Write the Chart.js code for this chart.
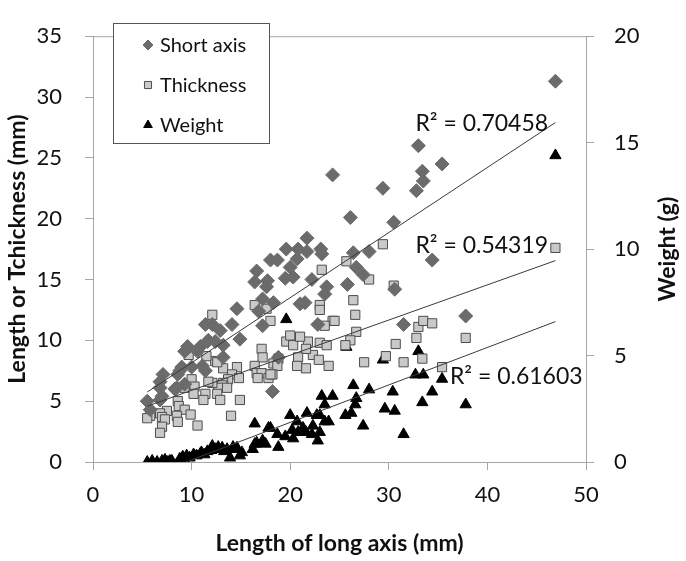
<!DOCTYPE html>
<html>
<head>
<meta charset="utf-8">
<script src="https://cdn.jsdelivr.net/npm/chart.js@4"></script>
<style>
  html, body { margin: 0; padding: 0; background: #fff; }
  #wrap { width: 686px; height: 561px; }
</style>
</head>
<body>
<div id="wrap"><canvas id="scatter"></canvas></div>
<script>
// long axis (mm) vs short axis (mm)
const shortAxis = [
  [46.9,31.3],[33.0,26.0],[35.4,24.5],[33.4,23.9],[33.5,23.1],[32.8,22.3],[24.3,23.6],[29.4,22.5],
  [26.1,20.1],[30.5,19.7],[34.4,16.6],[37.8,12.0],[31.5,11.3],[30.6,14.2],[21.7,18.4],[21.7,17.3],
  [23.1,17.5],[23.2,17.1],[26.4,17.2],[28.0,17.3],[26.7,16.0],[27.4,15.4],[22.2,15.0],[25.8,14.6],
  [23.7,14.4],[23.5,13.8],[21.5,13.1],[21.0,13.0],[22.8,11.3],[19.6,17.5],[20.8,17.5],[18.0,16.6],
  [18.7,16.6],[20.7,16.7],[20.0,16.0],[16.6,15.7],[16.4,14.8],[17.7,14.9],[17.6,14.4],[19.5,15.1],
  [20.3,15.2],[17.2,13.4],[18.3,13.1],[16.8,12.4],[14.6,12.6],[17.2,11.2],[14.1,11.3],[12.1,11.3],
  [12.9,10.8],[11.4,11.3],[11.7,10.0],[12.4,9.9],[14.9,10.1],[13.2,9.6],[10.9,9.5],[9.6,9.5],
  [9.3,9.1],[10.6,9.1],[13.2,8.6],[9.0,7.8],[10.0,7.8],[11.1,7.9],[11.4,7.5],[8.6,7.2],
  [7.1,7.2],[6.8,6.6],[9.3,6.4],[8.3,6.0],[6.8,6.1],[7.0,5.4],[5.5,5.0],[6.8,5.1],
  [5.8,4.3],[18.2,5.8],[18.8,8.6],[8.8,7.5],[11.6,9.9],[8.5,6.1]
];
// long axis (mm) vs thickness (mm)
const thickness = [
  [46.9,17.6],[32.8,10.2],[33.0,11.1],[33.5,11.6],[34.4,11.4],[37.8,10.2],[35.4,7.8],[33.4,8.5],
  [30.7,9.7],[29.7,8.7],[31.5,8.2],[27.5,8.2],[29.4,17.9],[25.7,16.5],[23.2,15.8],[28.0,15.0],
  [30.5,14.5],[26.4,13.3],[23.0,12.9],[23.0,12.5],[26.6,12.1],[24.3,11.6],[23.5,11.2],[26.7,10.7],
  [26.1,10.0],[25.6,9.6],[23.0,9.8],[23.7,9.6],[21.8,9.9],[22.3,8.8],[22.9,8.4],[23.9,7.9],
  [21.6,7.7],[19.6,9.9],[20.3,9.6],[21.0,10.3],[20.0,10.4],[21.6,9.3],[20.8,8.6],[20.7,7.9],
  [17.1,9.3],[17.2,8.6],[18.3,8.1],[18.8,8.5],[18.7,7.9],[16.4,7.9],[16.6,7.3],[17.1,7.3],
  [16.7,6.9],[17.8,6.9],[18.2,7.2],[12.4,8.3],[13.2,7.7],[14.6,7.8],[14.1,7.2],[14.8,6.9],
  [13.7,6.8],[13.2,6.5],[13.1,6.3],[12.7,6.1],[12.1,6.5],[12.6,5.6],[12.9,5.1],[14.9,5.1],
  [14.0,3.8],[12.1,12.1],[16.4,12.9],[17.6,12.6],[18.0,11.6],[24.5,11.6],[9.7,8.8],[11.5,8.7],
  [12.6,8.2],[13.6,6.1],[10.0,6.8],[9.3,6.1],[10.3,6.2],[11.7,6.6],[11.4,5.6],[10.2,5.6],
  [8.6,5.0],[8.7,4.6],[9.3,4.3],[7.5,4.2],[6.8,4.0],[5.8,3.8],[5.5,3.6],[7.0,3.7],
  [7.3,3.5],[8.5,3.8],[8.6,3.3],[7.0,2.9],[6.8,2.4],[10.6,3.0],[11.2,5.1],[9.9,3.9],[18.0,7.2]
];
// long axis (mm) vs weight (g)
const weight = [
  [5.5,0.0],[6.0,0.05],[6.5,0.0],[7.0,0.05],[7.3,0.1],[7.6,0.0],[8.0,0.05],[8.8,0.15],
  [9.1,0.25],[9.5,0.3],[9.8,0.2],[10.2,0.35],[10.5,0.3],[10.9,0.4],[11.3,0.35],[11.6,0.5],
  [12.0,0.55],[12.1,0.75],[12.4,0.6],[12.7,0.7],[13.1,0.67],[13.3,0.5],[13.6,0.6],[13.9,0.2],
  [14.2,0.7],[14.4,0.6],[14.6,0.67],[14.9,0.3],[15.1,0.45],[11.0,0.45],[9.3,0.1],[7.8,0.05],
  [16.2,0.6],[16.4,0.84],[16.6,0.9],[16.4,1.8],[17.2,1.0],[17.5,0.85],[17.8,1.6],[18.0,1.6],
  [18.7,1.3],[18.8,0.7],[19.5,1.2],[19.6,6.7],[20.0,2.2],[20.3,1.1],[20.2,1.5],[20.7,1.9],
  [20.8,1.4],[21.3,1.6],[21.6,1.4],[21.7,2.3],[22.2,1.3],[22.3,1.7],[22.7,2.2],[22.8,1.0],
  [23.0,1.4],[23.0,2.2],[23.2,3.1],[23.5,1.9],[23.5,2.7],[23.9,1.9],[24.3,3.1],[25.6,2.2],
  [25.7,5.4],[26.2,2.3],[26.4,3.6],[26.6,2.7],[26.7,3.0],[27.4,1.7],[28.0,3.4],[29.4,4.8],
  [29.6,2.5],[30.4,3.3],[30.6,2.4],[31.5,1.3],[32.7,4.1],[33.0,5.2],[33.5,4.1],[33.4,2.8],
  [34.4,3.3],[35.4,3.9],[37.8,2.7],[46.9,14.4]
];

const seriesNames = ['Short axis', 'Thickness', 'Weight'];
// linear trendlines: y = slope * x + intercept
const trendSlope = [0.535, 0.289, 0.176];
const trendIntercept = [2.81, 3.0, -1.66];
const rSquared = ['0.70458', '0.54319', '0.61603'];

const xTicks = [0, 10, 20, 30, 40, 50];
const leftTicks = [0, 5, 10, 15, 20, 25, 30, 35];
const rightTicks = [0, 5, 10, 15, 20];

const FONT = 'Lato, "Open Sans", sans-serif';
const toPts = arr => arr.map(p => ({ x: p[0], y: p[1] }));

function trend(arr, i) {
  const xs = arr.map(p => p[0]);
  const x0 = Math.min(...xs), x1 = Math.max(...xs);
  return [x0, x1].map(x => ({ x: x, y: trendSlope[i] * x + trendIntercept[i] }));
}

const styles = [
  { pointStyle: 'rectRot', radius: 7, bg: '#6b6b6b', border: '#6b6b6b', bw: 1 },
  { pointStyle: 'rect', radius: 6.5, bg: '#c9c9c9', border: '#4d4d4d', bw: 1 },
  { pointStyle: 'triangle', radius: 6.5, bg: '#000', border: '#000', bw: 1 }
];

const pointSets = [shortAxis, thickness, weight].map((arr, i) => ({
  type: 'scatter',
  label: seriesNames[i],
  data: toPts(arr),
  yAxisID: i === 2 ? 'y2' : 'y',
  pointStyle: styles[i].pointStyle,
  pointRadius: styles[i].radius,
  pointBackgroundColor: styles[i].bg,
  pointBorderColor: styles[i].border,
  pointBorderWidth: styles[i].bw,
  order: 2
}));

const trendSets = [shortAxis, thickness, weight].map((arr, i) => ({
  type: 'line',
  label: 'trend ' + i,
  data: trend(arr, i),
  yAxisID: i === 2 ? 'y2' : 'y',
  borderColor: '#3a3a3a',
  borderWidth: 1,
  pointRadius: 0,
  fill: false,
  order: 1
}));

// legend box, right axis title and R² labels drawn on top of the plot
const extras = {
  id: 'extras',
  afterDraw(chart) {
    const ctx = chart.ctx;
    const area = chart.chartArea;
    const x = chart.scales.x, y = chart.scales.y;
    ctx.save();
    // top border of the plot
    ctx.strokeStyle = '#a6a6a6';
    ctx.lineWidth = 1;
    ctx.beginPath();
    ctx.moveTo(area.left, area.top + 0.5);
    ctx.lineTo(area.right, area.top + 0.5);
    ctx.stroke();

    // legend
    const lx = 113, ly = 23, lw = 156, lh = 120;
    ctx.fillStyle = '#fff';
    ctx.fillRect(lx, ly, lw, lh);
    ctx.strokeStyle = '#555';
    ctx.strokeRect(lx + 0.5, ly + 0.5, lw, lh);
    ctx.font = '20px ' + FONT;
    ctx.textBaseline = 'middle';
    seriesNames.forEach((name, i) => {
      const cy = ly + 22 + i * 40;
      ctx.fillStyle = styles[i].bg;
      ctx.strokeStyle = styles[i].border;
      ctx.lineWidth = 1;
      Chart.helpers.drawPoint(ctx, { pointStyle: styles[i].pointStyle, radius: 5, borderWidth: 1 }, 148, cy);
      ctx.fillStyle = '#111';
      ctx.fillText(name, 160, cy + 1);
    });

    // R² labels
    const labelPos = [[32.7, 27.8], [32.7, 17.8], [36.2, 7.0]];
    ctx.font = '23px ' + FONT;
    ctx.fillStyle = '#111';
    rSquared.forEach((r, i) => {
      ctx.fillText('R² = ' + r, x.getPixelForValue(labelPos[i][0]), y.getPixelForValue(labelPos[i][1]));
    });

    // right axis title, reading bottom to top like the left one
    ctx.translate(668, (area.top + area.bottom) / 2);
    ctx.rotate(-Math.PI / 2);
    ctx.textAlign = 'center';
    ctx.font = 'bold 23px ' + FONT;
    ctx.fillText('Weight (g)', 0, 0);
    ctx.restore();
  }
};

const axisGrid = { drawOnChartArea: false, drawTicks: true, tickLength: 8, color: '#a6a6a6' };
const axisBorder = { display: true, color: '#a6a6a6', width: 1 };
const tickFont = { family: FONT, size: 22 };
const titleFont = { family: FONT, size: 23, weight: 'bold' };

new Chart(document.getElementById('scatter'), {
  data: { datasets: pointSets.concat(trendSets) },
  options: {
    responsive: true,
    maintainAspectRatio: false,
    animation: false,
    layout: { padding: { top: 12, left: 0, right: 0, bottom: 0 } },
    plugins: { legend: { display: false }, tooltip: { enabled: false } },
    scales: {
      x: {
        type: 'linear', min: 0, max: 50,
        afterBuildTicks: s => { s.ticks = xTicks.map(v => ({ value: v })); },
        afterFit: s => { s.height = 99; },
        grid: axisGrid, border: axisBorder,
        ticks: { padding: 12, color: '#111', font: tickFont },
        title: { display: true, text: 'Length of long axis (mm)', color: '#111',
                 font: titleFont, padding: { top: 0, bottom: 4 } }
      },
      y: {
        type: 'linear', position: 'left', min: 0, max: 35,
        afterBuildTicks: s => { s.ticks = leftTicks.map(v => ({ value: v })); },
        afterFit: s => { s.width = 93; },
        grid: axisGrid, border: axisBorder,
        ticks: { padding: 23, color: '#111', font: tickFont },
        title: { display: true, text: 'Length or Tchickness (mm)', color: '#111',
                 font: titleFont, padding: { top: 4, bottom: 0 } }
      },
      y2: {
        type: 'linear', position: 'right', min: 0, max: 20,
        afterBuildTicks: s => { s.ticks = rightTicks.map(v => ({ value: v })); },
        afterFit: s => { s.width = 100; },
        grid: axisGrid, border: axisBorder,
        ticks: { padding: 20, color: '#111', font: tickFont }
      }
    }
  },
  plugins: [extras]
});
</script>
</body>
</html>
